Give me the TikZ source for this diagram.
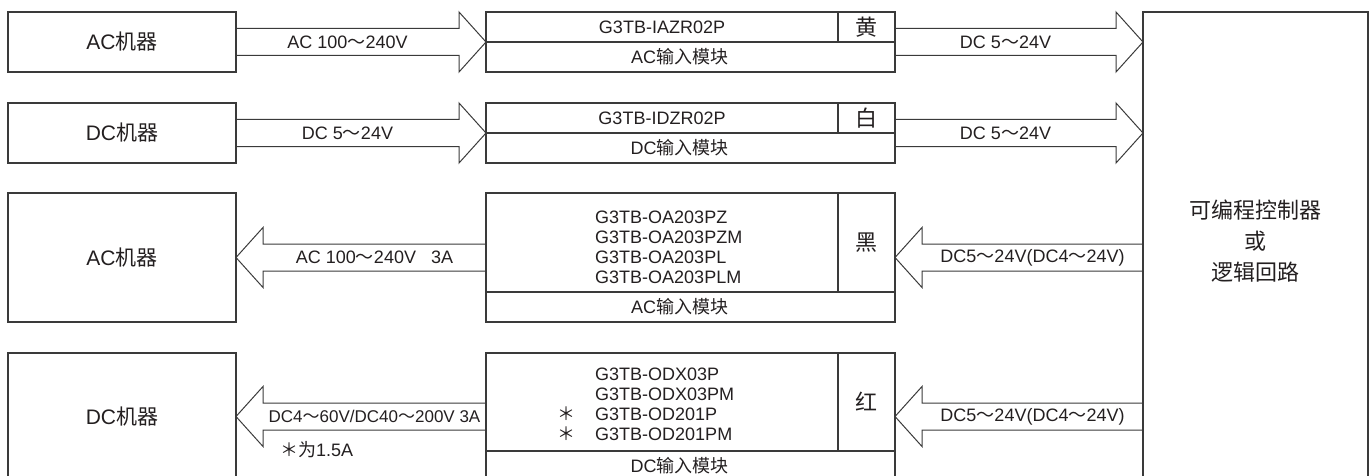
\documentclass[tikz,border=0pt]{standalone}
\usepackage{fontspec}
\setmainfont{Liberation Sans}
\newfontfamily\cjk{Noto Sans CJK SC}
\usepackage{xcolor}
\usetikzlibrary{positioning,calc}
\definecolor{ink}{HTML}{231F20}
\definecolor{rule}{HTML}{3A3A3A}
\newcommand{\wave}{{\cjk ～}}
\newcommand{\starmark}{{\cjk ＊}}
% fat arrow: start, tip, signed head length, label
\newcommand{\fatarrow}[4]{%
\draw[fat] let \p1=(#1), \p2=(#2) in
  (\x1,{\y1+13.5pt}) -- ({\x2-(#3)*1pt},{\y1+13.5pt}) -- ({\x2-(#3)*1pt},{\y1+30pt})
  -- (\x2,\y1) -- ({\x2-(#3)*1pt},{\y1-30pt}) -- ({\x2-(#3)*1pt},{\y1-13.5pt}) -- (\x1,{\y1-13.5pt});
\node[lbl] at ($(#1)!0.5!(#2)-({(#3)/2},0)$) {#4};
}
\tikzset{
  box/.style={draw=rule, line width=1.2pt, inner sep=0pt, outer sep=0pt, text=ink,
    font=\fontsize{21}{25}\selectfont, minimum width=228},
  cell/.style={draw=rule, line width=1.2pt, inner sep=0pt, outer sep=0pt, text=ink,
    font=\fontsize{18}{20}\selectfont},
  colour/.style={cell, minimum width=57, font=\fontsize{22}{24}\selectfont\cjk},
  lbl/.style={text=ink, inner sep=0pt, font=\fontsize{18}{20}\selectfont},
  fat/.style={draw=rule, line width=1pt, line join=miter}
}
\begin{document}
\begin{tikzpicture}[x=1pt,y=-1pt]
\clip (0,0) rectangle (1372,476);

% machines
\node[box, minimum height=60] (ac1) at (122,42) {AC{\cjk 机器}};
\node[box, minimum height=60] (dc1) at (122,133) {DC{\cjk 机器}};
\node[box, minimum height=129] (ac2) at (122,257.5) {AC{\cjk 机器}};
\node[box, minimum height=127] (dc2) at (122,416.5) {DC{\cjk 机器}};

% modules
\node[cell, minimum width=352, minimum height=30] (m1t) at (662,27) {G3TB-IAZR02P};
\node[colour, minimum height=30, right=0pt of m1t] (m1c) {黄};
\node[cell, minimum width=409, minimum height=30, anchor=north west] (m1b) at (m1t.south west) {AC{\cjk 输入模块}\hspace*{22pt}};

\node[cell, minimum width=352, minimum height=30] (m2t) at (662,118) {G3TB-IDZR02P};
\node[colour, minimum height=30, right=0pt of m2t] (m2c) {白};
\node[cell, minimum width=409, minimum height=30, anchor=north west] (m2b) at (m2t.south west) {DC{\cjk 输入模块}\hspace*{22pt}};

\node[cell, minimum width=352, minimum height=99] (m3t) at (662,242.5) {};
\node[lbl, align=left, anchor=west] (m3list) at ([xshift=109pt,yshift=-4.5pt]m3t.west)
  {G3TB-OA203PZ\\G3TB-OA203PZM\\G3TB-OA203PL\\G3TB-OA203PLM};
\node[colour, minimum height=99, right=0pt of m3t] (m3c) {黑};
\node[cell, minimum width=409, minimum height=30, anchor=north west] (m3b) at (m3t.south west) {AC{\cjk 输入模块}\hspace*{22pt}};

\node[cell, minimum width=352, minimum height=98] (m4t) at (662,402) {};
\node[lbl, align=left, anchor=west] (m4list) at ([xshift=109pt,yshift=-2.5pt]m4t.west)
  {G3TB-ODX03P\\G3TB-ODX03PM\\\llap{\starmark\hspace{20pt}}G3TB-OD201P\\\llap{\starmark\hspace{20pt}}G3TB-OD201PM};
\node[colour, minimum height=98, right=0pt of m4t] (m4c) {红};
\node[cell, minimum width=409, minimum height=29, anchor=north west] (m4b) at (m4t.south west) {DC{\cjk 输入模块}\hspace*{22pt}};

% controller
\node[box, minimum width=225, minimum height=468] (plc) at (1255.5,246) {};
\node[lbl, align=center, font=\fontsize{22}{31}\selectfont\cjk] (plctext) at ([yshift=5pt]plc.center)
  {可编程控制器\\或\\逻辑回路};

% arrows
\fatarrow{ac1.east}{m1b.north west}{27}{AC 100\wave240V}
\fatarrow{m1b.north east}{plc.west |- m1b.north}{27}{DC 5\wave24V}
\fatarrow{dc1.east}{m2b.north west}{27}{DC 5\wave24V}
\fatarrow{m2b.north east}{plc.west |- m2b.north}{27}{DC 5\wave24V}
\fatarrow{plc.west |- ac2.east}{m3c.east |- ac2.east}{-27}{DC5\wave24V(DC4\wave24V)}
\fatarrow{m3t.west |- ac2.east}{ac2.east}{-27}{AC 100\wave240V\hspace{15pt}3A}
\fatarrow{plc.west |- dc2.east}{m4c.east |- dc2.east}{-27}{DC5\wave24V(DC4\wave24V)}
\fatarrow{m4t.west |- dc2.east}{dc2.east}{-27}{\fontsize{17}{20}\selectfont DC4\wave60V/DC40\wave200V 3A}
\node[lbl, anchor=west] (note) at (280,450) {\starmark{\cjk 为}1.5A};
\end{tikzpicture}
\end{document}
